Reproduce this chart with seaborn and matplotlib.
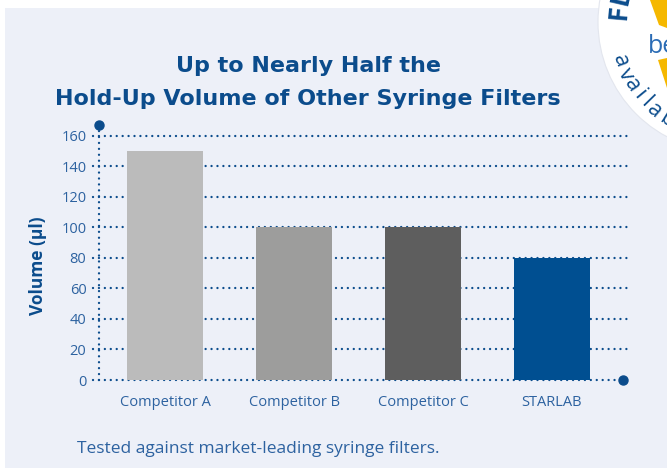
import matplotlib
matplotlib.use("Agg")
import numpy as np
import matplotlib.pyplot as plt
import seaborn as sns
from matplotlib.patches import Rectangle, Ellipse, Polygon

# data
categories = ["Competitor A", "Competitor B", "Competitor C", "STARLAB"]
volumes = [150, 100, 100, 80]
bar_colors = ["#bbbbbb", "#9d9d9c", "#5e5e5e", "#004f91"]
yticks = [0, 20, 40, 60, 80, 100, 120, 140, 160]

sns.set_theme(style="white")
plt.rcParams["font.family"] = ["Open Sans", "DejaVu Sans"]

DARK = "#0b4c8c"
MID = "#2d62a0"
PANEL = "#edf0f8"
W, H = 667, 468

fig = plt.figure(figsize=(6.67, 4.68), dpi=100, facecolor="white")
fig.add_artist(Rectangle((5 / W, 0), 1, 1 - 8 / H, transform=fig.transFigure,
                         facecolor=PANEL, edgecolor="none", zorder=-5))

ax = fig.add_axes([99 / W, 1 - 380 / H, 530 / W, 255 / H])
ax.set_facecolor("none")
sns.barplot(x=categories, y=volumes, hue=categories, palette=bar_colors,
            width=0.59, saturation=1, legend=False, linewidth=0, ax=ax, zorder=3)

ax.set_xlim(-0.512, 3.597)
ax.set_ylim(0, 167.2)
ax.set_yticks(yticks)
for s in ax.spines.values():
    s.set_visible(False)

# dotted grid and axis lines
dots = (0, (0.01, 2.5))
for v in yticks[1:]:
    ax.axhline(v, xmin=-0.011, xmax=1, color=DARK, lw=1.7, ls=dots,
               dash_capstyle="round", clip_on=False, zorder=1)
ax.axhline(0, xmin=-0.011, xmax=0.989, color=DARK, lw=1.7, ls=dots,
           dash_capstyle="round", clip_on=False, zorder=1)
ax.plot([0, 0], [0, 1], transform=ax.transAxes, color=DARK, lw=1.7, ls=dots,
        dash_capstyle="round", clip_on=False, zorder=1)
ax.plot([0], [1], transform=ax.transAxes, marker="o", ms=6.5, color=DARK,
        clip_on=False, zorder=4)
ax.plot([0.989], [0], transform=ax.transAxes, marker="o", ms=6.5, color=DARK,
        clip_on=False, zorder=4)

ax.tick_params(axis="both", length=0, labelsize=10.5, labelcolor=MID)
ax.tick_params(axis="y", pad=9)
ax.tick_params(axis="x", pad=11)
ax.set_xlabel("")
ax.set_ylabel("Volume (µl)", fontsize=12.5, fontweight="bold", color=DARK)
ax.yaxis.set_label_coords(-0.098, 0.447)

title_font = ["DejaVu Sans"]
fig.text(308 / W, 1 - 72 / H, "Up to Nearly Half the", ha="center", va="baseline",
         fontsize=16, fontweight="bold", color=DARK, family=title_font)
fig.text(308 / W, 1 - 105 / H, "Hold-Up Volume of Other Syringe Filters", ha="center",
         va="baseline", fontsize=16, fontweight="bold", color=DARK, family=title_font)
fig.text(77 / W, 1 - 449 / H, "Tested against market-leading syringe filters.",
         ha="left", va="center", fontsize=12.5, color=MID)

# badge in the top right corner
cx, cy, r = 728, H - 22, 130
fig.add_artist(Ellipse((cx / W, cy / H), 2 * r / W, 2 * r / H, transform=fig.transFigure,
                       facecolor="white", edgecolor="#e3e6ee", lw=0.8, zorder=-4))
fig.add_artist(Polygon([(650 / W, 1), (1, 1), (1, 1 - 28 / H), (659 / W, 1 - 25 / H)],
                       transform=fig.transFigure, facecolor="#f5b800", edgecolor="none", zorder=-3))
fig.add_artist(Polygon([(658 / W, 1 - 60 / H), (1, 1 - 58 / H), (1, 1 - 88 / H)],
                       transform=fig.transFigure, facecolor="#f5b800", edgecolor="none", zorder=-3))
fig.text(648 / W, 1 - 53 / H, "be", ha="left", va="baseline", fontsize=18, color="#2b6cb5")
for ch, ang, rr in zip("FL", [175, 167], [110, 110]):
    a = np.radians(ang)
    x, y = cx + rr * np.cos(a), cy + rr * np.sin(a)
    fig.text(x / W, y / H, ch, ha="center", va="center", fontsize=19, fontweight="bold",
             color=DARK, rotation=ang - 90)
for ch, ang in zip("availab", [200, 207, 213.5, 219.3, 224.3, 230.3, 238]):
    a = np.radians(ang)
    x, y = cx + 115 * np.cos(a), cy + 115 * np.sin(a)
    fig.text(x / W, y / H, ch, ha="center", va="center", fontsize=16, color=DARK,
             rotation=ang - 270)

fig.savefig("out.png", dpi=100)
